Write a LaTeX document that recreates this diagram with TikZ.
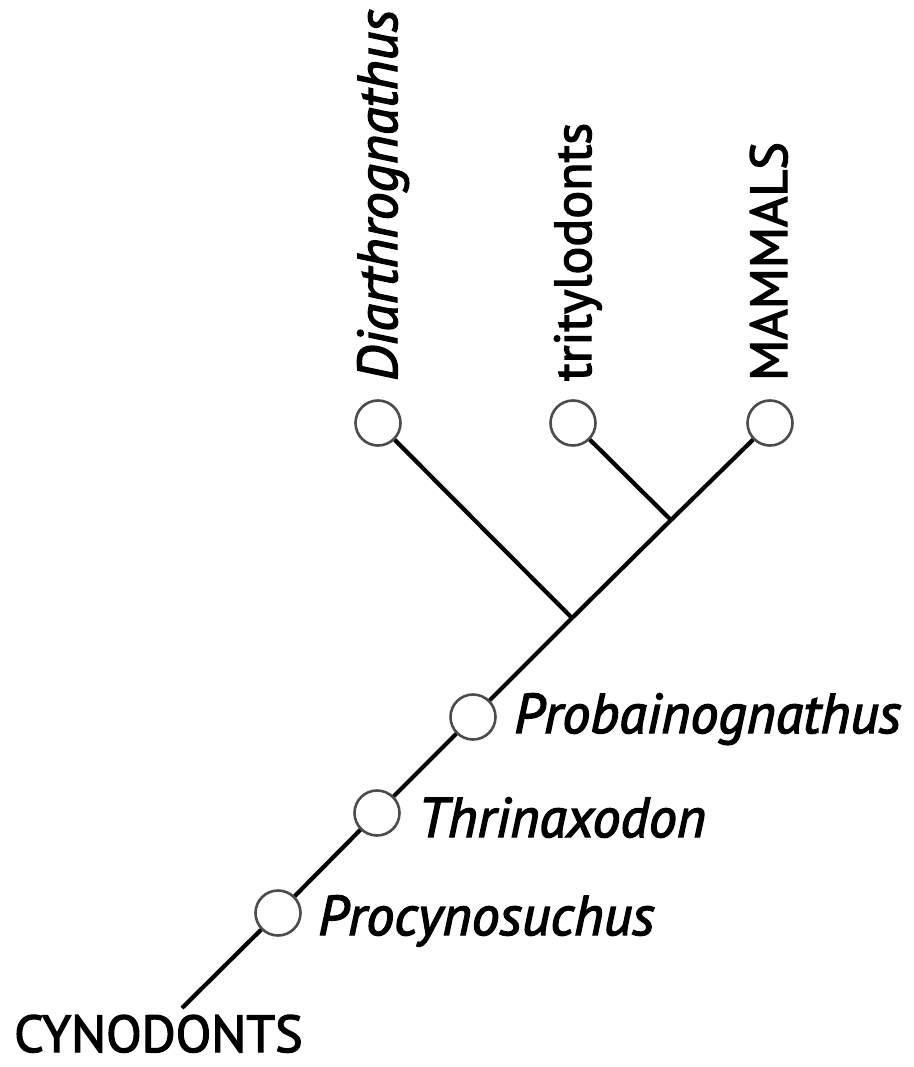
\documentclass[tikz,border=0pt]{standalone}
\usepackage{fontspec}
\setmainfont{PT Sans}
\newfontfamily\lblfont{PT Sans}[FakeBold=2.5]
\begin{document}
\begin{tikzpicture}[x=1pt,y=-1pt,
  taxon/.style={circle,draw=black!70,line width=2.6pt,minimum size=45pt,inner sep=0pt,fill=white},
  branch/.style={line width=4.2pt,black},
  lbl/.style={font=\lblfont\fontsize{56}{60}\selectfont\itshape,inner sep=0pt},
  grp/.style={font=\lblfont\fontsize{52}{56}\selectfont,inner sep=0pt}]
\useasboundingbox (0,0) rectangle (913,1067);
% taxon circles
\node[taxon] (proc) at (278,913) {};
\node[taxon] (thri) at (377,813) {};
\node[taxon] (prob) at (473,717) {};
\node[taxon] (diar) at (378,423) {};
\node[taxon] (trit) at (573,423) {};
\node[taxon] (mamm) at (770,423) {};
% branch points and root
\coordinate (root) at (182,1008);
\coordinate (b1) at (572,618);
\coordinate (b2) at (671,520);
% connectors
\draw[branch] (root) -- (proc);
\draw[branch] (proc) -- (thri);
\draw[branch] (thri) -- (prob);
\draw[branch] (prob) -- (b1);
\draw[branch] (b1) -- (diar);
\draw[branch] (b1) -- (b2);
\draw[branch] (b2) -- (trit);
\draw[branch] (b2) -- (mamm);
% labels
\node[lbl,anchor=base west] (lproc) at (318,935) {Procynosuchus};
\node[lbl,anchor=base west] (lthri) at (418,837) {Thrinaxodon};
\node[lbl,anchor=base west] (lprob) at (514,733) {Probainognathus};
\node[grp,anchor=base west] (lcyn) at (14,1052) {CYNODONTS};
\node[lbl,anchor=base west,rotate=90] (ldiar) at (397,381) {Diarthrognathus};
\node[grp,anchor=base west,rotate=90] (ltrit) at (591,381) {tritylodonts};
\node[grp,anchor=base west,rotate=90] (lmamm) at (787,381) {MAMMALS};
\end{tikzpicture}
\end{document}
